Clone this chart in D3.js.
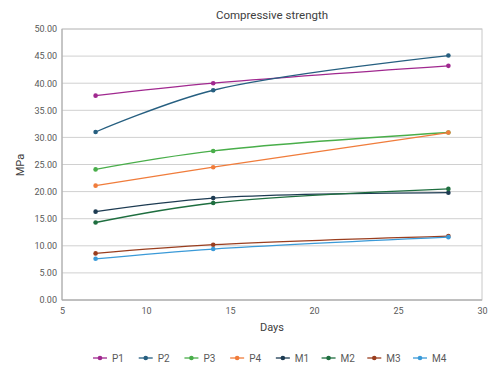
<!DOCTYPE html>
<html><head><meta charset="utf-8">
<script src="https://cdn.jsdelivr.net/npm/d3@7"></script>
<style>body{margin:0;background:#fff;} text{font-family:Roboto,"Noto Sans",sans-serif;}</style>
</head><body>
<svg id="c" width="488" height="366"></svg>
<script>
const days = [7, 14, 28];
const seriesNames = ["P1","P2","P3","P4","M1","M2","M3","M4"];
const P1 = [37.7, 40.0, 43.2];
const P2 = [31.0, 38.7, 45.1];
const P3 = [24.1, 27.5, 30.9];
const P4 = [21.1, 24.5, 30.9];
const M1 = [16.3, 18.8, 19.8];
const M2 = [14.3, 17.9, 20.5];
const M3 = [8.6, 10.2, 11.8];
const M4 = [7.6, 9.4, 11.6];
const colors = ["#a0288f","#265f80","#49ae4a","#f07c3b","#1d3b52","#1e6e3f","#9a3e1f","#3a9ad8"];
const xTicks = [5,10,15,20,25,30];
const yTicks = [0,5,10,15,20,25,30,35,40,45,50];
const values = [P1,P2,P3,P4,M1,M2,M3,M4];

const svg = d3.select("#c");
const L=62, R=482, T=29, B=300;
const x = d3.scaleLinear().domain([5,30]).range([L,R]);
const y = d3.scaleLinear().domain([0,50]).range([B,T]);

// gridlines
svg.append("g").selectAll("line").data(yTicks).join("line")
  .attr("x1",L).attr("x2",R).attr("y1",d=>y(d)).attr("y2",d=>y(d))
  .attr("stroke","#d0d0d0").attr("stroke-width",1);
// border
svg.append("rect").attr("x",L).attr("y",T).attr("width",R-L).attr("height",B-T)
  .attr("fill","none").attr("stroke","#c8c8c8").attr("stroke-width",1);
svg.append("line").attr("x1",L).attr("x2",R).attr("y1",B).attr("y2",B).attr("stroke","#a8a8a8");
svg.append("line").attr("x1",L).attr("x2",L).attr("y1",T).attr("y2",B).attr("stroke","#a8a8a8");

// axes labels
const yAxis = d3.axisLeft(y).tickValues(yTicks).tickFormat(d3.format(".2f")).tickSize(0).tickPadding(5);
const gy = svg.append("g").attr("transform",`translate(${L},0)`).call(yAxis);
gy.select(".domain").remove();
gy.selectAll("text").attr("fill","#595959").style("font-size","9px");
const xAxis = d3.axisBottom(x).tickValues(xTicks).tickSize(0).tickPadding(8);
const gx = svg.append("g").attr("transform",`translate(0,${B})`).call(xAxis);
gx.select(".domain").remove();
gx.selectAll("text").attr("fill","#595959").style("font-size","9px");

// lines
const line = d3.line().x((d,i)=>x(days[i])).y(d=>y(d)).curve(d3.curveCatmullRom.alpha(0.5));
seriesNames.forEach((name,k)=>{
  const g = svg.append("g");
  g.append("path").datum(values[k]).attr("d",line).attr("fill","none")
    .attr("stroke",colors[k]).attr("stroke-width",1.3);
  g.selectAll("circle").data(values[k]).join("circle")
    .attr("cx",(d,i)=>x(days[i])).attr("cy",d=>y(d)).attr("r",2.3).attr("fill",colors[k]);
});

// titles
svg.append("text").attr("x",272).attr("y",19).attr("text-anchor","middle")
  .attr("fill","#404040").style("font-size","11.5px").text("Compressive strength");
svg.append("text").attr("x",272).attr("y",331).attr("text-anchor","middle")
  .attr("fill","#404040").style("font-size","11px").text("Days");
svg.append("text").attr("transform","translate(24,165) rotate(-90)").attr("text-anchor","middle")
  .attr("fill","#404040").style("font-size","11px").text("MPa");

// legend
const legX = d3.scaleLinear().domain([0,7]).range([93,413]);
const lg = svg.append("g");
seriesNames.forEach((name,k)=>{
  const x0 = legX(k);
  lg.append("line").attr("x1",x0).attr("x2",x0+14).attr("y1",358).attr("y2",358)
    .attr("stroke",colors[k]).attr("stroke-width",1.3);
  lg.append("circle").attr("cx",x0+7).attr("cy",358).attr("r",2.3).attr("fill",colors[k]);
  lg.append("text").attr("x",x0+19).attr("y",361.5).attr("fill","#595959")
    .style("font-size","10px").text(name);
});
</script>
</body></html>
